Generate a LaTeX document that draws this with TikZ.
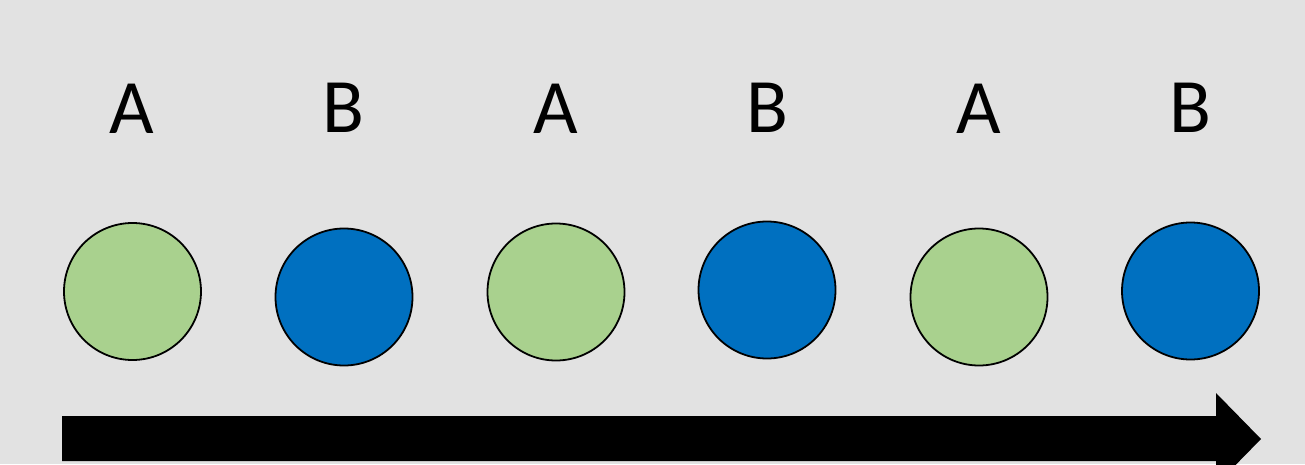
\documentclass[tikz,border=0pt]{standalone}
\usepackage{fontspec}
\setmainfont{Carlito}
\definecolor{bg}{HTML}{E2E2E2}
\definecolor{ballA}{HTML}{A9D18E}
\definecolor{ballB}{HTML}{0070C0}
\begin{document}
\begin{tikzpicture}[x=1pt,y=-1pt,
  ball/.style={circle,draw=black,line width=1.8pt,minimum size=137pt,inner sep=0pt},
  balla/.style={ball,fill=ballA},
  ballb/.style={ball,fill=ballB},
  tag/.style={anchor=base,inner sep=0pt,font=\fontsize{77}{80}\selectfont}]
  \fill[bg] (0,0) rectangle (1305,464);
  \useasboundingbox (0,0) rectangle (1305,464);
  % sequence of states
  \node[balla] (c1) at (132.5,291.5) {};
  \node[ballb] (c2) at (344,297) {};
  \node[balla] (c3) at (556,292) {};
  \node[ballb] (c4) at (767,290) {};
  \node[balla] (c5) at (979,297) {};
  \node[ballb] (c6) at (1190.5,291) {};
  % labels
  \node[tag] (l1) at (132,133) {A};
  \node[tag] (l2) at (343,132) {B};
  \node[tag] (l3) at (556,133) {A};
  \node[tag] (l4) at (767,132) {B};
  \node[tag] (l5) at (979,133) {A};
  \node[tag] (l6) at (1190,132) {B};
  % time arrow
  \fill[black] (62,416) -- (1216,416) -- (1216,393) -- (1261,439)
    -- (1216,485) -- (1216,461) -- (62,461) -- cycle;
\end{tikzpicture}
\end{document}
